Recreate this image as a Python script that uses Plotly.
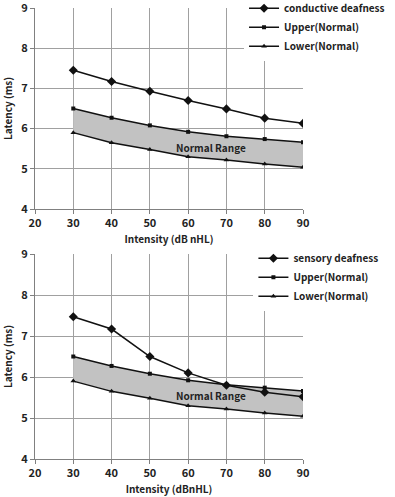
import plotly.graph_objects as go

intensity = [30, 40, 50, 60, 70, 80, 90]
conductive = [7.45, 7.17, 6.93, 6.70, 6.49, 6.26, 6.13]
sensory = [7.47, 7.17, 6.50, 6.10, 5.80, 5.63, 5.52]
upper_normal = [6.50, 6.27, 6.08, 5.92, 5.81, 5.74, 5.66]
lower_normal = [5.90, 5.65, 5.48, 5.30, 5.22, 5.12, 5.04]

x_ticks = [20, 30, 40, 50, 60, 70, 80, 90]
y_ticks = [4, 5, 6, 7, 8, 9]

FONT = "Noto Sans CJK JP"
LINE = "#111111"

fig = go.Figure()

panels = [
    ("x", "y", "legend", "conductive deafness", conductive),
    ("x2", "y2", "legend2", "sensory deafness", sensory),
]

pattern = dict(shape=".", fgcolor="#707070", bgcolor="#d6d6d6", size=2, solidity=0.45)

for xa, ya, lg, name, vals in panels:
    # shaded normal range (between lower and upper), hidden from legend
    fig.add_trace(go.Scatter(
        x=intensity, y=lower_normal, mode="lines", line=dict(width=0, color="rgba(0,0,0,0)"),
        showlegend=False, hoverinfo="skip",
        xaxis=xa, yaxis=ya, legend=lg))
    fig.add_trace(go.Scatter(
        x=intensity, y=upper_normal, mode="lines", line=dict(width=0, color="rgba(0,0,0,0)"),
        showlegend=False, hoverinfo="skip",
        fill="tonexty", fillcolor="#c8c8c8", fillpattern=pattern,
        xaxis=xa, yaxis=ya, legend=lg))
    fig.add_trace(go.Scatter(
        x=intensity, y=vals, name=name, mode="lines+markers",
        line=dict(color=LINE, width=1.5), marker=dict(symbol="diamond", size=7, color=LINE),
        xaxis=xa, yaxis=ya, legend=lg))
    fig.add_trace(go.Scatter(
        x=intensity, y=upper_normal, name="Upper(Normal)", mode="lines+markers",
        line=dict(color=LINE, width=1.5), marker=dict(symbol="square", size=4, color=LINE),
        xaxis=xa, yaxis=ya, legend=lg))
    fig.add_trace(go.Scatter(
        x=intensity, y=lower_normal, name="Lower(Normal)", mode="lines+markers",
        line=dict(color=LINE, width=1.5), marker=dict(symbol="triangle-up", size=5, color=LINE),
        xaxis=xa, yaxis=ya, legend=lg))

axis_common = dict(
    showgrid=True, gridcolor="#a0a0a0", gridwidth=1,
    showline=True, linecolor="#808080", linewidth=1,
    ticks="outside", ticklen=4, tickcolor="#808080",
    tickfont=dict(family=FONT, size=11, color="#222222", weight="bold"),
    ticklabeloverflow="allow",
    zeroline=False,
)

xcommon = dict(axis_common, range=[20, 90], tickvals=x_ticks, ticktext=[str(t) for t in x_ticks])
ycommon = dict(axis_common, range=[4, 9], tickvals=y_ticks, ticktext=[str(t) for t in y_ticks])

title_font = dict(family=FONT, size=10, color="#222222", weight="bold")

legend_common = dict(
    bgcolor="white", borderwidth=0, xanchor="left", yanchor="top",
    font=dict(family=FONT, size=10, color="#222222", weight="bold"),
    itemwidth=30, tracegroupgap=0, traceorder="normal",
)

# plot area: top panel px 8..209, bottom panel px 254..459 ; margins t=8, b=38 -> height 451
fig.update_layout(
    width=395, height=497,
    margin=dict(l=35, r=92, t=8, b=38, autoexpand=False),
    paper_bgcolor="white", plot_bgcolor="white",
    xaxis=dict(xcommon, domain=[0, 1], anchor="y",
               title=dict(text="Intensity (dB nHL)", font=title_font, standoff=6)),
    yaxis=dict(ycommon, domain=[0.5543, 1], anchor="x",
               title=dict(text="Latency (ms)", font=title_font, standoff=6)),
    xaxis2=dict(xcommon, domain=[0, 1], anchor="y2",
                title=dict(text="Intensity (dBnHL)", font=title_font, standoff=6)),
    yaxis2=dict(ycommon, domain=[0, 0.4545], anchor="x2",
                title=dict(text="Latency (ms)", font=title_font, standoff=6)),
    legend=dict(legend_common, x=0.78, y=1.0315),
    legend2=dict(legend_common, x=0.815, y=0.4772),
    showlegend=True,
    annotations=[
        dict(x=66, y=5.53, xref="x", yref="y", text="Normal Range", showarrow=False,
             font=dict(family=FONT, size=10, color="#222222", weight="bold")),
        dict(x=66, y=5.54, xref="x2", yref="y2", text="Normal Range", showarrow=False,
             font=dict(family=FONT, size=10, color="#222222", weight="bold")),
    ],
)

fig.write_html("out.html")
